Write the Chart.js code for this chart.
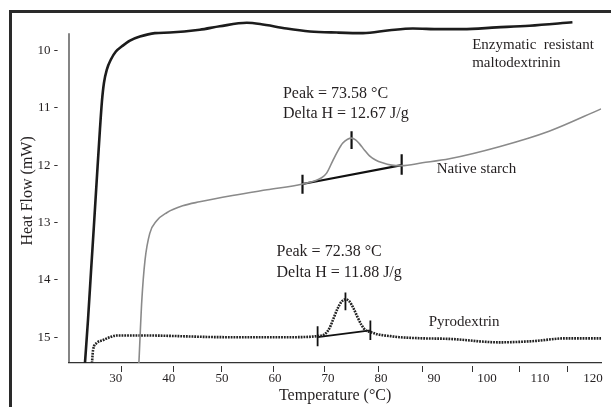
<!DOCTYPE html>
<html>
<head>
<meta charset="utf-8">
<title>DSC thermograms</title>
<script src="https://cdn.jsdelivr.net/npm/chart.js@4.4.1/dist/chart.umd.min.js"></script>
<style>
  html, body { margin: 0; padding: 0; background: #fff; }
  canvas { display: block; }
</style>
</head>
<body>
<canvas id="dscChart" width="611" height="407"></canvas>
<script>
// values: temperature (°C) and heat flow (mW)
const tempTicks = [30, 40, 50, 60, 70, 80, 90, 100, 110, 120];
const heatTicks = [10, 11, 12, 13, 14, 15];
// the little tick marks under the axis don't sit on the labels in the original
const tickMarkTemps = [31.0, 40.8, 49.8, 59.6, 69.2, 79.4, 87.8, 97.1, 106.1, 115.1];

const enzymaticTemp = [24.18, 24.75, 25.31, 25.88, 26.44, 27.01, 27.38, 27.76, 28.32, 29.07, 30.01, 31.15, 32.66, 34.54, 37.36, 40.19, 45.83, 49.6, 54.7, 57.2, 62.2, 66.6, 71.7, 76.6, 81.6, 86.0, 91.1, 95.4, 101.8, 108.0, 116.1];
const enzymaticHeat = [15.45, 14.70, 13.87, 13.04, 12.20, 11.37, 10.89, 10.57, 10.33, 10.16, 10.02, 9.93, 9.83, 9.76, 9.70, 9.69, 9.64, 9.58, 9.52, 9.54, 9.62, 9.67, 9.69, 9.70, 9.65, 9.62, 9.63, 9.63, 9.60, 9.57, 9.51];

const nativeTemp = [34.35, 34.9, 35.5, 36.4, 37.7, 39.6, 42.6, 45.8, 52.0, 58.5, 65.2, 68.81, 69.75, 70.88, 71.82, 72.76, 73.70, 74.45, 75.21, 75.96, 76.90, 77.84, 78.97, 80.29, 81.99, 83.87, 87.8, 92.9, 102.3, 111.7, 121.5];
const nativeHeat = [15.45, 14.36, 13.66, 13.19, 12.97, 12.83, 12.71, 12.64, 12.53, 12.43, 12.33, 12.22, 12.14, 11.93, 11.76, 11.62, 11.55, 11.53, 11.56, 11.63, 11.74, 11.84, 11.91, 11.96, 12.0, 12.01, 11.96, 11.89, 11.68, 11.41, 11.02];

const pyroTemp = [25.5, 25.7, 26.4, 27.6, 28.9, 30.2, 35.1, 50.9, 63.3, 68.05, 69.37, 70.31, 71.06, 71.82, 72.57, 73.32, 74.08, 74.83, 75.58, 76.34, 77.09, 78.03, 79.35, 81.61, 83.49, 87.8, 92.9, 102.3, 108.5, 114.9, 121.5];
const pyroHeat = [15.45, 15.23, 15.10, 15.05, 15.0, 14.97, 14.97, 15.0, 15.0, 14.98, 14.95, 14.84, 14.67, 14.50, 14.38, 14.34, 14.38, 14.50, 14.65, 14.79, 14.88, 14.91, 14.95, 14.98, 15.0, 15.02, 15.03, 15.09, 15.07, 15.02, 15.02];

// integration baselines and their end / peak markers
const nativeBaseTemp = [65.2, 83.9];
const nativeBaseHeat = [12.33, 12.0];
const nativeMarkTemp = [65.2, 83.9, 74.45];
const nativeMarkTop = [12.17, 11.81, 11.41];
const nativeMarkBottom = [12.5, 12.17, 11.72];

const pyroBaseTemp = [68.05, 78.0];
const pyroBaseHeat = [15.0, 14.88];
const pyroMarkTemp = [68.05, 78.0, 73.3];
const pyroMarkTop = [14.81, 14.71, 14.22];
const pyroMarkBottom = [15.16, 15.05, 14.53];

const toPoints = (xs, ys) => xs.map((x, i) => ({ x: x, y: ys[i] }));

const markSegments = (baseX, baseY, markX, top, bottom) => {
  const pts = toPoints(baseX, baseY);
  markX.forEach((x, i) => {
    pts.push({ x: x, y: null });
    pts.push({ x: x, y: top[i] });
    pts.push({ x: x, y: bottom[i] });
  });
  return pts;
};

const serif = "'Liberation Serif', 'DejaVu Serif', serif";
const ink = "#231f20";

// text labels, anchored by temperature / heat flow
const notes = [
  { text: "Peak = 73.58 °C", x: 61.5, y: 10.76, size: 16 },
  { text: "Delta H = 12.67 J/g", x: 61.5, y: 11.11, size: 16 },
  { text: "Native starch", x: 90.5, y: 12.07, size: 15 },
  { text: "Peak = 72.38 °C", x: 60.3, y: 13.52, size: 16 },
  { text: "Delta H = 11.88 J/g", x: 60.3, y: 13.87, size: 16 },
  { text: "Pyrodextrin", x: 89.0, y: 14.74, size: 15 },
  { text: "Enzymatic  resistant", x: 97.2, y: 9.90, size: 15 },
  { text: "maltodextrinin", x: 97.2, y: 10.23, size: 15 }
];

const decorations = {
  id: "decorations",
  beforeDatasetsDraw(chart) {
    const { ctx, chartArea, scales } = chart;
    ctx.save();
    // outer frame (only top and left edges show)
    ctx.fillStyle = "#2a2a2a";
    ctx.fillRect(9, 10, 602, 3);
    ctx.fillRect(9, 10, 3, 397);
    // y axis line starts a bit below the top of the plot
    ctx.strokeStyle = "#333";
    ctx.lineWidth = 1.2;
    ctx.beginPath();
    ctx.moveTo(chartArea.left, scales.y.getPixelForValue(9.7));
    ctx.lineTo(chartArea.left, chartArea.bottom);
    ctx.stroke();
    // small tick marks under x axis
    ctx.lineWidth = 1;
    tickMarkTemps.forEach((t) => {
      const px = Math.round(scales.x.getPixelForValue(t)) + 0.5;
      ctx.beginPath();
      ctx.moveTo(px, chartArea.bottom + 3);
      ctx.lineTo(px, chartArea.bottom + 9);
      ctx.stroke();
    });
    ctx.restore();
  },
  afterDraw(chart) {
    const { ctx, scales } = chart;
    ctx.save();
    ctx.fillStyle = ink;
    ctx.textAlign = "left";
    ctx.textBaseline = "middle";
    notes.forEach((n) => {
      ctx.font = n.size + "px " + serif;
      ctx.fillText(n.text, scales.x.getPixelForValue(n.x), scales.y.getPixelForValue(n.y));
    });
    ctx.restore();
  }
};

new Chart(document.getElementById("dscChart"), {
  type: "scatter",
  data: {
    datasets: [
      {
        label: "Enzymatic resistant maltodextrinin",
        data: toPoints(enzymaticTemp, enzymaticHeat),
        borderColor: "#1c1c1c",
        borderWidth: 2.6,
        cubicInterpolationMode: "monotone"
      },
      {
        label: "Native starch",
        data: toPoints(nativeTemp, nativeHeat),
        borderColor: "#8a8a8a",
        borderWidth: 1.6,
        cubicInterpolationMode: "monotone"
      },
      {
        label: "Pyrodextrin",
        data: toPoints(pyroTemp, pyroHeat),
        borderColor: "#222",
        borderWidth: 2.6,
        borderDash: [1.8, 1],
        cubicInterpolationMode: "monotone"
      },
      {
        label: "Native starch baseline",
        data: markSegments(nativeBaseTemp, nativeBaseHeat, nativeMarkTemp, nativeMarkTop, nativeMarkBottom),
        borderColor: "#111",
        borderWidth: 2.2
      },
      {
        label: "Pyrodextrin baseline",
        data: markSegments(pyroBaseTemp, pyroBaseHeat, pyroMarkTemp, pyroMarkTop, pyroMarkBottom),
        borderColor: "#111",
        borderWidth: 1.8
      }
    ]
  },
  options: {
    responsive: false,
    animation: false,
    showLine: true,
    spanGaps: false,
    elements: { point: { radius: 0 }, line: { tension: 0 } },
    layout: { padding: { top: 17, right: 9, left: 0, bottom: 0 } },
    plugins: { legend: { display: false }, tooltip: { enabled: false } },
    scales: {
      x: {
        type: "linear",
        min: 21.17,
        max: 121.53,
        afterBuildTicks: (s) => { s.ticks = tempTicks.map((v) => ({ value: v })); },
        afterFit: (s) => { s.height = 44; },
        grid: { display: false, drawTicks: false },
        border: { display: true, color: "#333", width: 1.2 },
        ticks: { color: ink, padding: 8, maxRotation: 0, font: { family: serif, size: 13 } },
        title: {
          display: true,
          text: "Temperature (°C)",
          color: ink,
          font: { family: serif, size: 16 },
          padding: { top: 0, bottom: 2 }
        }
      },
      y: {
        type: "linear",
        reverse: true,
        min: 9.45,
        max: 15.45,
        afterBuildTicks: (s) => { s.ticks = heatTicks.map((v) => ({ value: v })); },
        afterFit: (s) => { s.width = 69; },
        grid: { display: false, drawTicks: false },
        border: { display: false },
        ticks: {
          color: ink,
          padding: 11,
          font: { family: serif, size: 13 },
          callback: (v) => v + " -"
        },
        title: {
          display: true,
          text: "Heat Flow (mW)",
          color: ink,
          font: { family: serif, size: 16 },
          padding: { top: 18, bottom: 0 }
        }
      }
    }
  },
  plugins: [decorations]
});
</script>
</body>
</html>
